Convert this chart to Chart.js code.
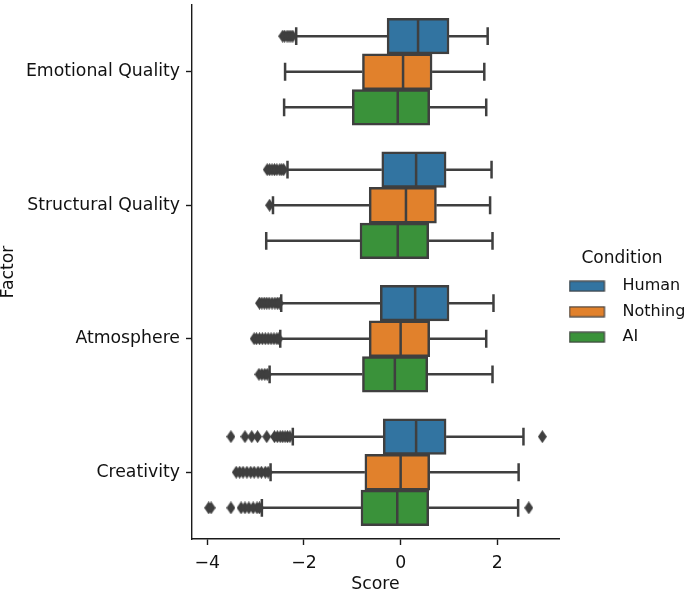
<!DOCTYPE html>
<html><head><meta charset="utf-8">
<script src="https://cdn.jsdelivr.net/npm/chart.js@4"></script>
<style>html,body{margin:0;padding:0;background:#fff}#wrap{width:685px;height:591px}</style>
</head><body><div id="wrap"><canvas id="c" width="685" height="591"></canvas></div>
<script>
const categories = ['Emotional Quality', 'Structural Quality', 'Atmosphere', 'Creativity'];
const conditions = ['Human', 'Nothing', 'AI'];
const xTicks = [-4, -2, 0, 2];

const humanLow = [-2.16, -2.34, -2.47, -2.23];
const humanQ1 = [-0.28, -0.39, -0.42, -0.36];
const humanMedian = [0.36, 0.32, 0.30, 0.32];
const humanQ3 = [1.00, 0.94, 1.00, 0.94];
const humanHigh = [1.80, 1.88, 1.92, 2.54];
const humanOutliers = [
  [-2.44, -2.40, -2.35, -2.31, -2.27, -2.23],
  [-2.76, -2.71, -2.66, -2.61, -2.56, -2.50, -2.46, -2.42],
  [-2.92, -2.87, -2.82, -2.77, -2.72, -2.66, -2.60, -2.55, -2.51],
  [-3.51, -3.22, -3.08, -2.96, -2.77, -2.61, -2.55, -2.49, -2.44, -2.39, -2.34, -2.29, 2.93]
];

const nothingLow = [-2.39, -2.64, -2.49, -2.69];
const nothingQ1 = [-0.79, -0.65, -0.65, -0.74];
const nothingMedian = [0.05, 0.11, 0.00, 0.00];
const nothingQ3 = [0.65, 0.74, 0.60, 0.60];
const nothingHigh = [1.73, 1.85, 1.77, 2.44];
const nothingOutliers = [
  [],
  [-2.71],
  [-3.03, -2.98, -2.92, -2.86, -2.80, -2.74, -2.68, -2.62, -2.56, -2.52],
  [-3.40, -3.33, -3.26, -3.18, -3.10, -3.03, -2.95, -2.88, -2.80, -2.74]
];

const aiLow = [-2.41, -2.78, -2.71, -2.87];
const aiQ1 = [-1.00, -0.84, -0.79, -0.82];
const aiMedian = [-0.06, -0.06, -0.12, -0.07];
const aiQ3 = [0.60, 0.58, 0.56, 0.58];
const aiHigh = [1.77, 1.90, 1.90, 2.43];
const aiOutliers = [
  [],
  [],
  [-2.93, -2.87, -2.81, -2.76],
  [-3.97, -3.92, -3.51, -3.30, -3.22, -3.14, -3.05, -2.97, -2.92, 2.65]
];

const series = [
  {low: humanLow, q1: humanQ1, med: humanMedian, q3: humanQ3, high: humanHigh, out: humanOutliers, color: '#3274a1'},
  {low: nothingLow, q1: nothingQ1, med: nothingMedian, q3: nothingQ3, high: nothingHigh, out: nothingOutliers, color: '#e1812c'},
  {low: aiLow, q1: aiQ1, med: aiMedian, q3: aiQ3, high: aiHigh, out: aiOutliers, color: '#3a923a'}
];

const LINE = '#3f3f3f';
const AXIS = '#1a1a1a';
const TEXT = '#111';
const LW = 2.5;
const slot = 0.8 / conditions.length;
const half = slot / 2;
const capHalf = half / 2;

// thin diamond marker (matplotlib 'd')
const dm = document.createElement('canvas');
dm.width = 9; dm.height = 13;
(function(){
  const g = dm.getContext('2d');
  g.fillStyle = LINE;
  g.beginPath();
  g.moveTo(4.5, 0); g.lineTo(9, 6.5); g.lineTo(4.5, 13); g.lineTo(0, 6.5); g.closePath();
  g.fill();
})();

// legend patches
function patch(color) {
  const c = document.createElement('canvas');
  c.width = 46; c.height = 12;
  const g = c.getContext('2d');
  g.fillStyle = color;
  g.fillRect(1, 1, 35, 10);
  g.strokeStyle = LINE; g.lineWidth = 1.2;
  g.strokeRect(1, 1, 35, 10);
  return c;
}

const datasets = [];
series.forEach((s, k) => {
  datasets.push({
    type: 'bar', label: conditions[k], indexAxis: 'y',
    data: categories.map((c, i) => ({y: i + (k - 1) * slot, x: [s.q1[i], s.q3[i]]})),
    backgroundColor: s.color, borderColor: LINE, borderWidth: LW, borderSkipped: false,
    grouped: false, barPercentage: 1, categoryPercentage: 1, order: 3,
    legendPatch: patch(s.color)
  });
});
series.forEach((s, k) => {
  const pts = [];
  const gap = {x: null, y: null};
  categories.forEach((c, i) => {
    const y = i + (k - 1) * slot;
    pts.push({x: s.low[i], y}, {x: s.q1[i], y}, gap);
    pts.push({x: s.q3[i], y}, {x: s.high[i], y}, gap);
    pts.push({x: s.low[i], y: y - capHalf}, {x: s.low[i], y: y + capHalf}, gap);
    pts.push({x: s.high[i], y: y - capHalf}, {x: s.high[i], y: y + capHalf}, gap);
    pts.push({x: s.med[i], y: y - half + 0.01}, {x: s.med[i], y: y + half - 0.01}, gap);
  });
  datasets.push({
    type: 'scatter', label: conditions[k] + ' whiskers', data: pts, showLine: true, spanGaps: false,
    borderColor: LINE, borderWidth: LW, pointRadius: 0, pointHoverRadius: 0, order: 1
  });
});
series.forEach((s, k) => {
  const pts = [];
  categories.forEach((c, i) => {
    s.out[i].forEach(v => pts.push({x: v, y: i + (k - 1) * slot}));
  });
  datasets.push({
    type: 'scatter', label: conditions[k] + ' outliers', data: pts,
    pointStyle: dm, pointRadius: 4, backgroundColor: LINE, borderColor: LINE, order: 0
  });
});

Chart.defaults.font.family = "'DejaVu Sans', sans-serif";
Chart.defaults.font.size = 17.3;
Chart.defaults.color = TEXT;

new Chart(document.getElementById('c'), {
  type: 'bar',
  data: {datasets},
  options: {
    responsive: false, animation: false,
    layout: {padding: {top: 0, right: 0, bottom: 0, left: 0}},
    plugins: {
      tooltip: {enabled: false},
      legend: {
        position: 'right',
        maxWidth: 126,
        title: {display: true, text: 'Condition', font: {size: 17}, padding: {top: 14, bottom: -2}},
        labels: {
          font: {size: 16},
          usePointStyle: true, pointStyleWidth: 46, boxHeight: 12, padding: 9.5,
          filter: item => item.datasetIndex < 3,
          generateLabels: chart => Chart.defaults.plugins.legend.labels.generateLabels(chart)
            .map(l => Object.assign(l, {pointStyle: chart.data.datasets[l.datasetIndex].legendPatch}))
        }
      }
    },
    scales: {
      x: {
        type: 'linear', min: -4.315, max: 3.275, offset: false,
        afterBuildTicks: s => { s.ticks = xTicks.map(v => ({value: v})); },
        afterFit: s => { s.height = 52; },
        ticks: {callback: v => v < 0 ? '\u2212' + Math.abs(v) : String(v), padding: 10.3, font: {lineHeight: 1}},
        grid: {drawOnChartArea: false, offset: false, tickLength: 6, tickColor: AXIS, tickWidth: 1.4},
        border: {color: AXIS, width: 1.4},
        title: {display: true, text: 'Score', font: {lineHeight: 1}, padding: {top: 0, bottom: -2.5}}
      },
      y: {
        type: 'linear', reverse: true, min: -0.5, max: 3.5, offset: false,
        afterBuildTicks: s => { s.ticks = categories.map((c, i) => ({value: i})); },
        afterFit: s => { s.paddingTop = 0; s.paddingBottom = 0; s.width = 192; },
        ticks: {callback: v => categories[v], padding: 6, autoSkip: false},
        grid: {drawOnChartArea: false, offset: false, tickLength: 6, tickColor: AXIS, tickWidth: 1.4},
        border: {color: AXIS, width: 1.4},
        title: {display: true, text: 'Factor', font: {lineHeight: 1}, padding: {top: 0, bottom: 4}}
      }
    }
  }
});
</script></body></html>
